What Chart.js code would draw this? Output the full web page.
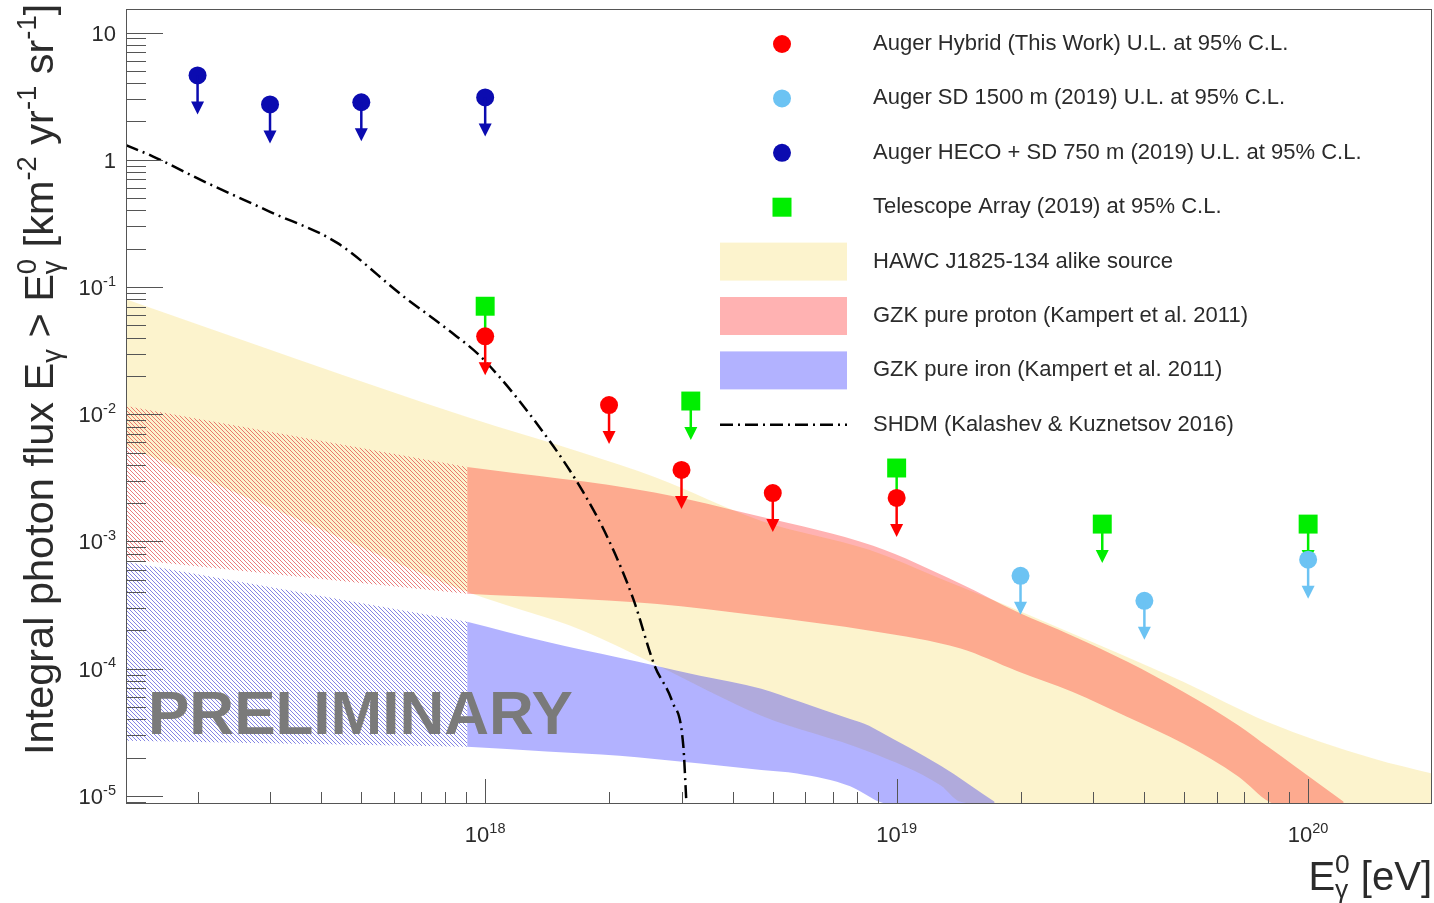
<!DOCTYPE html>
<html lang="en">
<head>
<meta charset="UTF-8">
<title>Integral photon flux upper limits</title>
<script src="https://cdn.jsdelivr.net/npm/chart.js"></script>
<style>
  body { margin: 0; background: #fff; }
  canvas { display: block; }
</style>
</head>
<body>
<canvas id="fluxChart" width="1434" height="903"></canvas>
<script>
// axis ranges
const xMin = 1.34e17, xMax = 2.0e20;
const yMin = 8.65e-6, yMax = 15.3;

// upper limits (E in eV, flux in km^-2 yr^-1 sr^-1)
const hecoE = [2e17, 3e17, 5e17, 1e18];
const hecoFlux = [4.6, 2.72, 2.83, 3.09];
const hybridE = [1e18, 2e18, 3e18, 5e18, 1e19];
const hybridFlux = [0.041, 0.0118, 3.65e-3, 2.4e-3, 2.2e-3];
const taE = [1e18, 3.16e18, 1e19, 3.16e19, 1e20];
const taFlux = [0.0706, 0.0127, 3.78e-3, 1.37e-3, 1.37e-3];
const sd1500E = [2e19, 4e19, 1e20];
const sd1500Flux = [5.37e-4, 3.42e-4, 7.2e-4];

// SHDM prediction
const shdmE = [1.34e17, 1.56e17, 2.07e17, 3.0e17, 4.37e17, 6.32e17, 8.09e17, 9.89e17,
               1.44e18, 1.73e18, 1.99e18, 2.29e18, 2.58e18, 2.85e18, 3.03e18, 3.08e18];
const shdmFlux = [1.30, 1.06, 0.677, 0.39, 0.222, 0.0847, 0.0466, 0.0271,
                  6.05e-3, 2.45e-3, 1.05e-3, 3.54e-4, 1.06e-4, 5.5e-5, 2.49e-5, 9.5e-6];

// HAWC-like source band
const hawcE = [1.34e17, 3.55e17, 9.04e17, 1.73e18, 2.58e18, 4.69e18, 8.57e18,
               1.28e19, 1.43e19, 2.36e19, 4.97e19, 7.94e19, 1.44e20, 2.0e20];
const hawcUpper = [0.0802, 0.0266, 9.5e-3, 4.96e-3, 3.21e-3, 1.45e-3, 8.6e-4,
                   5.09e-4, 4.4e-4, 2.25e-4, 7.9e-5, 3.84e-5, 1.97e-5, 1.5e-5];
const hawcLower = [5.63e-3, 1.47e-3, 4.02e-4, 1.99e-4, 1.09e-4, 4.28e-5, 2.23e-5,
                   1.21e-5, 9.0e-6, 8e-6, 8e-6, 8e-6, 8e-6, 8e-6];

// GZK proton band (hatched below 9e17, solid above)
const protonHatchE = [1.34e17, 9.04e17];
const protonHatchUpper = [0.0116, 3.85e-3];
const protonHatchLower = [7.3e-4, 3.88e-4];
const protonE = [9.04e17, 2.58e18, 4.66e18, 8.77e18, 1.43e19, 1.96e19, 2.67e19,
                 3.65e19, 4.97e19, 6.79e19, 8.04e19, 9.25e19, 1.22e20];
const protonUpper = [3.85e-3, 2.43e-3, 1.57e-3, 9.24e-4, 4.65e-4, 2.8e-4, 1.82e-4,
                     1.13e-4, 6.6e-5, 3.57e-5, 2.4e-5, 1.73e-5, 9.0e-6];
const protonLower = [3.88e-4, 3.24e-4, 2.61e-4, 1.97e-4, 1.44e-4, 9.6e-5, 6.6e-5,
                     4.15e-5, 2.58e-5, 1.41e-5, 9.0e-6, 8e-6, 8e-6];

// GZK iron band
const ironHatchE = [1.34e17, 9.04e17];
const ironHatchUpper = [6.92e-4, 2.34e-4];
const ironHatchLower = [2.72e-5, 2.44e-5];
const ironE = [9.04e17, 1.41e18, 2.12e18, 2.58e18, 3.33e18, 4.69e18, 5.73e18,
               7.71e18, 8.57e18, 9.07e18, 1.28e19, 1.73e19];
const ironUpper = [2.34e-4, 1.63e-4, 1.22e-4, 1.06e-4, 8.8e-5, 6.97e-5, 5.6e-5,
                   4.02e-5, 3.57e-5, 3.23e-5, 1.73e-5, 9.0e-6];
const ironLower = [2.44e-5, 2.24e-5, 2.07e-5, 1.95e-5, 1.8e-5, 1.6e-5, 1.5e-5,
                   1.19e-5, 9.9e-6, 9.0e-6, 8e-6, 8e-6];

const legendLabels = [
  'Auger Hybrid (This Work) U.L. at 95% C.L.',
  'Auger SD 1500 m (2019) U.L. at 95% C.L.',
  'Auger HECO + SD 750 m (2019) U.L. at 95% C.L.',
  'Telescope Array (2019) at 95% C.L.',
  'HAWC J1825-134 alike source',
  'GZK pure proton (Kampert et al. 2011)',
  'GZK pure iron (Kampert et al. 2011)',
  'SHDM (Kalashev & Kuznetsov 2016)'
];

// colours
const RED = '#ff0000', LIGHTBLUE = '#6cc3f3', DARKBLUE = '#0b0bb0', GREEN = '#00ee00';
const YELLOW_FILL = 'rgba(245,215,90,0.3)';
const RED_FILL = 'rgba(255,0,0,0.3)';
const BLUE_FILL = 'rgba(0,0,255,0.3)';
const FONT = '"Liberation Sans", Arial, Helvetica, sans-serif';
const TEXT = '#2b2b2b';

function pts(xs, ys) {
    return xs.map((x, i) => ({ x: x, y: ys[i] }));
}

function hatch(color) {
    const s = 4;
    const c = document.createElement('canvas');
    c.width = s; c.height = s;
    const g = c.getContext('2d');
    g.strokeStyle = color;
    g.lineWidth = 1;
    g.beginPath();
    g.moveTo(0, 0); g.lineTo(s, s);
    g.moveTo(-1, s - 1); g.lineTo(1, s + 1);
    g.moveTo(s - 1, -1); g.lineTo(s + 1, 1);
    g.stroke();
    return g.createPattern(c, 'repeat');
}

const bandLine = {
    showLine: true, pointRadius: 0, borderWidth: 0, borderColor: 'transparent',
    cubicInterpolationMode: 'monotone', clip: 0
};

function band(xs, up, low, fillStyle, order) {
    return [
        Object.assign({ data: pts(xs, up), fill: '+1', backgroundColor: fillStyle, order: order }, bandLine),
        Object.assign({ data: pts(xs, low), fill: false, order: order }, bandLine)
    ];
}

function markers(xs, ys, color, style, radius, order) {
    return {
        data: pts(xs, ys), showLine: false, fill: false,
        pointStyle: style, pointRadius: radius, pointBorderWidth: 0,
        pointBackgroundColor: color, pointBorderColor: color,
        arrowColor: color, order: order
    };
}

// rich text: parts are [text, kind], kind '' | 'sup' | 'sub' | 'ss' (text = [sub, sup])
function drawRich(ctx, parts, x, y, size, dry) {
    let cx = x;
    const small = size * 0.66;
    parts.forEach(([t, k]) => {
        if (k === 'sup' || k === 'sub') {
            ctx.font = small + 'px ' + FONT;
            if (!dry) ctx.fillText(t, cx, y + (k === 'sup' ? -size * 0.42 : size * 0.2));
            cx += ctx.measureText(t).width;
        } else if (k === 'ss') {
            ctx.font = small + 'px ' + FONT;
            if (!dry) {
                ctx.fillText(t[0], cx, y + size * 0.2);
                ctx.fillText(t[1], cx, y - size * 0.42);
            }
            cx += Math.max(ctx.measureText(t[0]).width, ctx.measureText(t[1]).width);
        } else {
            ctx.font = size + 'px ' + FONT;
            if (!dry) ctx.fillText(t, cx, y);
            cx += ctx.measureText(t).width;
        }
    });
    return cx - x;
}

// arrows drawn right after each marker set so later sets sit on top
const arrowPlugin = {
    id: 'ulArrows',
    afterDatasetDraw(chart, args) {
        const ds = chart.data.datasets[args.index];
        if (!ds.arrowColor) return;
        const ctx = chart.ctx;
        ctx.save();
        ctx.strokeStyle = ds.arrowColor;
        ctx.fillStyle = ds.arrowColor;
        ctx.lineWidth = 2.5;
        args.meta.data.forEach(p => {
            ctx.beginPath();
            ctx.moveTo(p.x, p.y);
            ctx.lineTo(p.x, p.y + 28);
            ctx.stroke();
            ctx.beginPath();
            ctx.moveTo(p.x - 6.5, p.y + 26);
            ctx.lineTo(p.x + 6.5, p.y + 26);
            ctx.lineTo(p.x, p.y + 39);
            ctx.closePath();
            ctx.fill();
        });
        ctx.restore();
    }
};

// ROOT-style frame, inner ticks, labels and titles
const framePlugin = {
    id: 'rootFrame',
    afterDraw(chart) {
        const ctx = chart.ctx, a = chart.chartArea;
        const xs = chart.scales.x, ys = chart.scales.y;
        ctx.save();
        ctx.strokeStyle = '#555';
        ctx.lineWidth = 1;
        ctx.strokeRect(a.left + 0.5, a.top + 0.5, a.right - a.left - 1, a.bottom - a.top - 1);

        ctx.beginPath();
        for (let d = -6; d <= 1; d++) {
            for (let k = 1; k <= 9; k++) {
                const v = k * Math.pow(10, d);
                if (v < yMin || v > yMax) continue;
                const py = Math.round(ys.getPixelForValue(v)) + 0.5;
                ctx.moveTo(a.left, py);
                ctx.lineTo(a.left + (k === 1 ? 37 : 20), py);
            }
        }
        for (let d = 17; d <= 20; d++) {
            for (let k = 1; k <= 9; k++) {
                const v = k * Math.pow(10, d);
                if (v <= xMin || v >= xMax) continue;
                const px = Math.round(xs.getPixelForValue(v)) + 0.5;
                ctx.moveTo(px, a.bottom);
                ctx.lineTo(px, a.bottom - (k === 1 ? 25 : 12));
            }
        }
        ctx.stroke();

        // tick labels
        ctx.fillStyle = TEXT;
        ctx.textBaseline = 'alphabetic';
        ctx.textAlign = 'left';
        for (let d = -5; d <= 1; d++) {
            const py = ys.getPixelForValue(Math.pow(10, d));
            let parts;
            if (d === 0) parts = [['1', '']];
            else if (d === 1) parts = [['10', '']];
            else parts = [['10', ''], [String(d), 'sup']];
            const w = drawRich(ctx, parts, 0, 0, 22, true);
            drawRich(ctx, parts, 116 - w, py + 8, 22);
        }
        for (let d = 18; d <= 20; d++) {
            const px = xs.getPixelForValue(Math.pow(10, d));
            const parts = [['10', ''], [String(d), 'sup']];
            const w = drawRich(ctx, parts, 0, 0, 22, true);
            drawRich(ctx, parts, px - w / 2, 842, 22);
        }

        // axis titles
        const xTitle = [['E', ''], [['γ', '0'], 'ss'], [' [eV]', '']];
        const xw = drawRich(ctx, xTitle, 0, 0, 40, true);
        drawRich(ctx, xTitle, 1432 - xw, 890, 40);

        const yTitle = [['Integral photon flux E', ''], ['γ', 'sub'], [' > E', ''], [['γ', '0'], 'ss'],
                        [' [km', ''], ['-2', 'sup'], [' yr', ''], ['-1', 'sup'], [' sr', ''], ['-1', 'sup'], [']', '']];
        ctx.save();
        ctx.translate(53, 755);
        ctx.rotate(-Math.PI / 2);
        drawRich(ctx, yTitle, 0, 0, 41.5);
        ctx.restore();

        // watermark
        ctx.font = 'bold 62px ' + FONT;
        ctx.fillStyle = '#7a7a7a';
        ctx.fillText('PRELIMINARY', 148, 734);
        ctx.restore();
    }
};

const legendPlugin = {
    id: 'rootLegend',
    afterDraw(chart) {
        const ctx = chart.ctx;
        const items = [
            { kind: 'circle', color: RED }, { kind: 'circle', color: LIGHTBLUE },
            { kind: 'circle', color: DARKBLUE }, { kind: 'square', color: GREEN },
            { kind: 'box', color: YELLOW_FILL }, { kind: 'box', color: RED_FILL },
            { kind: 'box', color: BLUE_FILL }, { kind: 'dash' }
        ];
        ctx.save();
        items.forEach((it, i) => {
            const y = 44 + i * 54.4;
            ctx.fillStyle = it.color || '#000';
            if (it.kind === 'circle') {
                ctx.beginPath();
                ctx.arc(782, y, 9, 0, Math.PI * 2);
                ctx.fill();
            } else if (it.kind === 'square') {
                ctx.fillRect(782 - 9.5, y - 9.5, 19, 19);
            } else if (it.kind === 'box') {
                ctx.fillRect(720, y - 19, 127, 38);
            } else {
                ctx.strokeStyle = '#000';
                ctx.lineWidth = 2.5;
                ctx.setLineDash([13, 5, 2, 5]);
                ctx.beginPath();
                ctx.moveTo(720, y);
                ctx.lineTo(847, y);
                ctx.stroke();
                ctx.setLineDash([]);
            }
            ctx.fillStyle = TEXT;
            ctx.font = '22px ' + FONT;
            ctx.textBaseline = 'middle';
            ctx.fillText(legendLabels[i], 873, y);
        });
        ctx.restore();
    }
};

const datasets = [].concat(
    band(hawcE, hawcUpper, hawcLower, YELLOW_FILL, 10),
    band(protonHatchE, protonHatchUpper, protonHatchLower, hatch('rgba(225,70,70,0.7)'), 9),
    band(ironHatchE, ironHatchUpper, ironHatchLower, hatch('rgba(80,80,215,0.7)'), 9),
    band(protonE, protonUpper, protonLower, RED_FILL, 8),
    band(ironE, ironUpper, ironLower, BLUE_FILL, 8),
    [{
        data: pts(shdmE, shdmFlux), showLine: true, fill: false, pointRadius: 0,
        borderColor: '#000', borderWidth: 2.5, borderDash: [13, 5, 2, 5],
        cubicInterpolationMode: 'monotone', order: 5
    }],
    [markers(taE, taFlux, GREEN, 'rect', 13.4, 4)],
    [markers(sd1500E, sd1500Flux, LIGHTBLUE, 'circle', 9, 3)],
    [markers(hecoE, hecoFlux, DARKBLUE, 'circle', 9, 2)],
    [markers(hybridE, hybridFlux, RED, 'circle', 9, 1)]
);

new Chart(document.getElementById('fluxChart').getContext('2d'), {
    type: 'line',
    data: { datasets: datasets },
    options: {
        responsive: false,
        devicePixelRatio: 1,
        animation: false,
        events: [],
        layout: { autoPadding: false, padding: { left: 126, right: 2, top: 9, bottom: 99 } },
        plugins: { legend: { display: false }, title: { display: false }, tooltip: { enabled: false } },
        scales: {
            x: { type: 'logarithmic', min: xMin, max: xMax, bounds: 'data', display: false },
            y: { type: 'logarithmic', min: yMin, max: yMax, bounds: 'data', display: false }
        }
    },
    plugins: [arrowPlugin, framePlugin, legendPlugin]
});
</script>
</body>
</html>
